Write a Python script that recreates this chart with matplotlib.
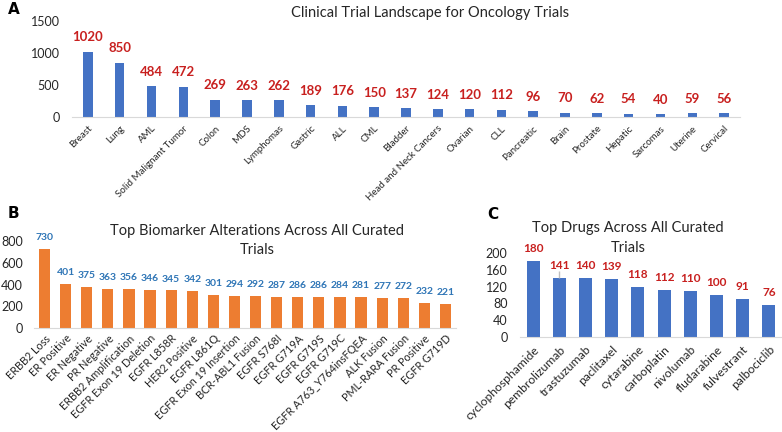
import matplotlib
matplotlib.use('Agg')
import matplotlib.pyplot as plt

plt.rcParams['font.family'] = ['Lato', 'DejaVu Sans']

# Panel A data
cancers = ['Breast', 'Lung', 'AML', 'Solid Malignant Tumor', 'Colon', 'MDS', 'Lymphomas',
           'Gastric', 'ALL', 'CML', 'Bladder', 'Head and Neck Cancers', 'Ovarian', 'CLL',
           'Pancreatic', 'Brain', 'Prostate', 'Hepatic', 'Sarcomas', 'Uterine', 'Cervical']
cancer_counts = [1020, 850, 484, 472, 269, 263, 262, 189, 176, 150, 137, 124, 120, 112,
                 96, 70, 62, 54, 40, 59, 56]

# Panel B data
biomarkers = ['ERBB2 Loss', 'ER Positive', 'ER Negative', 'PR Negative', 'ERBB2 Amplification',
              'EGFR Exon 19 Deletion', 'EGFR L858R', 'HER2 Positive', 'EGFR L861Q',
              'EGFR Exon 19 Insertion', 'BCR-ABL1 Fusion', 'EGFR S768I', 'EGFR G719A',
              'EGFR G719S', 'EGFR G719C', 'EGFR A763_Y764insFQEA', 'ALK Fusion',
              'PML-RARA Fusion', 'PR Positive', 'EGFR G719D']
biomarker_counts = [730, 401, 375, 363, 356, 346, 345, 342, 301, 294, 292, 287, 286, 286,
                    284, 281, 277, 272, 232, 221]

# Panel C data
drugs = ['cyclophosphamide', 'pembrolizumab', 'trastuzumab', 'paclitaxel', 'cytarabine',
         'carboplatin', 'nivolumab', 'fludarabine', 'fulvestrant', 'palbociclib']
drug_counts = [180, 141, 140, 139, 118, 112, 110, 100, 91, 76]
pembro_leader_top = 158

BLUE = '#4472C4'
ORANGE = '#ED7D31'
RED = '#C8201F'
LBLUE = '#2E75B6'
GRID = '#D9D9D9'
TXT = '#262626'

fig = plt.figure(figsize=(7.82, 4.32), dpi=100)


def style(ax, ymax, yticks, names, tick_fs, ypad):
    for s in ['top', 'right', 'left']:
        ax.spines[s].set_visible(False)
    ax.spines['bottom'].set_color(GRID)
    ax.set_ylim(0, ymax)
    ax.set_yticks(yticks)
    ax.tick_params(axis='both', length=0, colors=TXT)
    ax.tick_params(axis='y', labelsize=9, pad=ypad)
    ax.set_xticks(range(len(names)))
    ax.set_xticklabels(names, rotation=45, ha='right', rotation_mode='anchor',
                       fontsize=tick_fs)
    ax.set_xlim(-0.5, len(names) - 0.5)
    ax.patch.set_alpha(0)


def title_lines(x, y_first, lines, gap):
    for i, line in enumerate(lines):
        fig.text(x / 782, 1 - (y_first + i * gap) / 432, line,
                 ha='center', va='center', fontsize=10.5, color=TXT)


# A
axA = fig.add_axes([72 / 782, 1 - 117 / 432, 668 / 782, 96 / 432])
xa = range(len(cancers))
axA.bar(xa, cancer_counts, width=0.3, color=BLUE)
style(axA, 1500, [0, 500, 1000, 1500], cancers, 7, 9)
axA.tick_params(axis='x', pad=5)
for x, v in zip(xa, cancer_counts):
    axA.annotate(str(v), (x, v), xytext=(0, 6), textcoords='offset points',
                 ha='center', va='bottom', color=RED, fontsize=9.5, fontweight='bold')
title_lines(430, 13, ['Clinical Trial Landscape for Oncology Trials'], 0)

# B
axB = fig.add_axes([34 / 782, 1 - 328 / 432, 422 / 782, 87 / 432])
xb = range(len(biomarkers))
axB.bar(xb, biomarker_counts, width=0.53, color=ORANGE)
style(axB, 800, [0, 200, 400, 600, 800], biomarkers, 7.8, 8)
for x, v in zip(xb, biomarker_counts):
    axB.annotate(str(v), (x, v), xytext=(0, 5), textcoords='offset points',
                 ha='center', va='bottom', color=LBLUE, fontsize=7.5, fontweight='bold')
title_lines(257, 231, ['Top Biomarker Alterations Across All Curated', 'Trials'], 19)

# C
axC = fig.add_axes([520 / 782, 1 - 337 / 432, 262 / 782, 84 / 432])
xc = range(len(drugs))
axC.bar(xc, drug_counts, width=0.5, color=BLUE)
style(axC, 200, [0, 40, 80, 120, 160, 200], drugs, 8.7, 9)
axC.tick_params(axis='x', pad=5)
axC.vlines(1, drug_counts[1], pembro_leader_top, color='#BFBFBF', lw=1)
for x, v in zip(xc, drug_counts):
    axC.annotate(str(v), (x, v), xytext=(0, 5), textcoords='offset points',
                 ha='center', va='bottom', color=RED, fontsize=8.5, fontweight='bold')
title_lines(628, 228, ['Top Drugs Across All Curated', 'Trials'], 20)

# panel letters
fig.text(8 / 782, 1 - 10 / 432, 'A', fontsize=11, fontweight='bold', va='center',
         family='DejaVu Sans')
fig.text(8 / 782, 1 - 213 / 432, 'B', fontsize=11, fontweight='bold', va='center',
         family='DejaVu Sans')
fig.text(487 / 782, 1 - 215 / 432, 'C', fontsize=11, fontweight='bold', va='center',
         family='DejaVu Sans')

fig.savefig('out.png', dpi=100)
